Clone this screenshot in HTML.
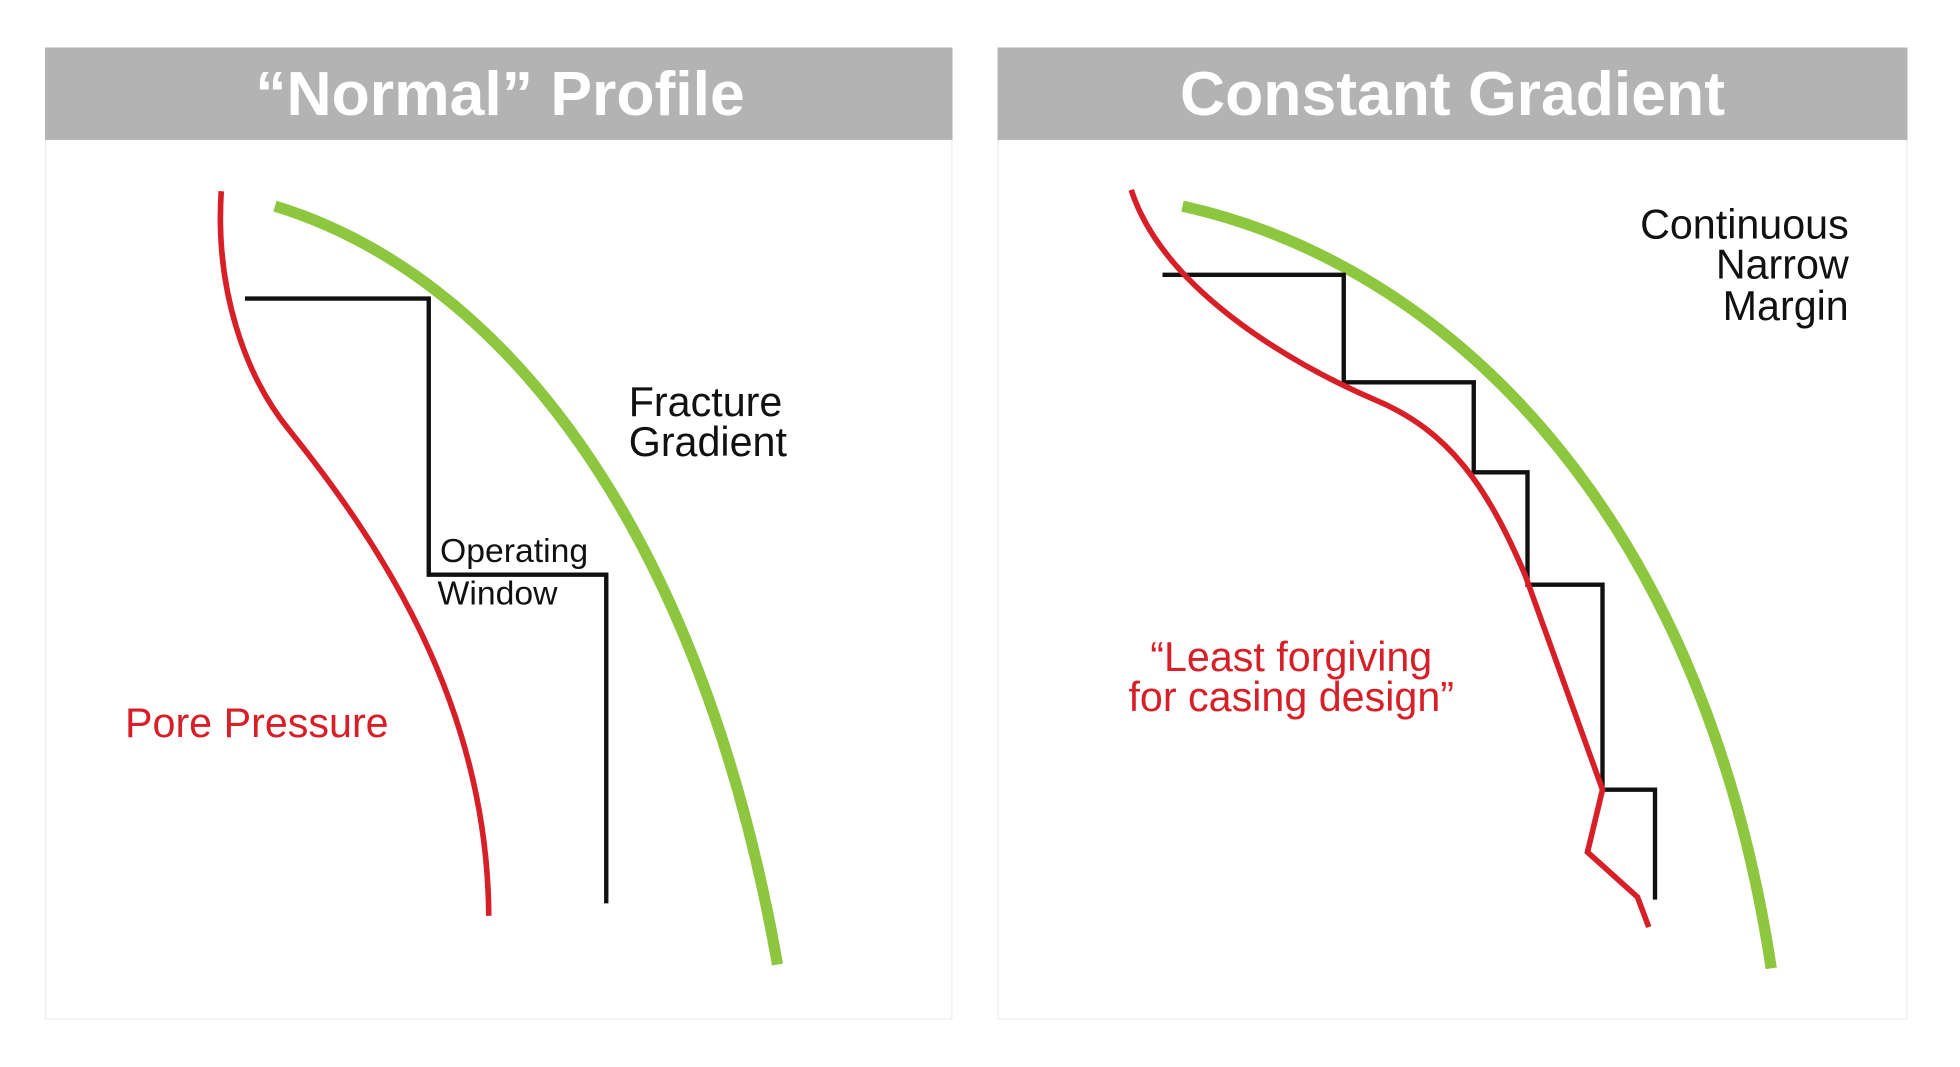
<!DOCTYPE html>
<html><head><meta charset="utf-8"><style>
html,body{margin:0;padding:0;background:#fff;}
svg{display:block;}
text{font-family:"Liberation Sans",sans-serif;}
</style></head><body>
<svg width="1960" height="1067" viewBox="0 0 1568 854" preserveAspectRatio="none" xmlns="http://www.w3.org/2000/svg">
<rect x="0" y="0" width="1568" height="854" fill="#fff"/>
<rect x="36.5" y="38.5" width="725" height="777" fill="#fff" stroke="#eeeeee" stroke-width="1"/>
<rect x="798.5" y="38.5" width="727" height="777" fill="#fff" stroke="#eeeeee" stroke-width="1"/>
<rect x="36" y="38" width="726" height="74" fill="#b3b3b3"/>
<rect x="798" y="38" width="728" height="74" fill="#b3b3b3"/>
<text x="400" y="92" text-anchor="middle" fill="#fff" font-size="50" font-weight="bold">“Normal” Profile</text>
<text x="1162" y="92" text-anchor="middle" fill="#fff" font-size="50" font-weight="bold">Constant Gradient</text>
<path d="M220,165 C400,220 560,420 622,772" fill="none" stroke="#8dc63f" stroke-width="9"/>
<path d="M177,153 C172,230 195,300 232,345 C300,430 390,560 391,733" fill="none" stroke="#d71f27" stroke-width="4.5"/>
<path d="M196,239 H343 V460 H485 V723" fill="none" stroke="#111" stroke-width="3.5"/>
<text x="503" y="333" font-size="33" fill="#111">Fracture</text>
<text x="503" y="365" font-size="33" fill="#111">Gradient</text>
<text x="352" y="450" font-size="27" fill="#111">Operating</text>
<text x="350" y="484" font-size="27" fill="#111">Window</text>
<text x="100" y="590" font-size="33" fill="#d71f27">Pore Pressure</text>
<path d="M946,165 C1150,210 1360,400 1417,775" fill="none" stroke="#8dc63f" stroke-width="9"/>
<path d="M930,220 H1075 V306 H1179 V378 H1222 V468 H1282 V632 H1324 V720" fill="none" stroke="#111" stroke-width="3.5"/>
<path d="M905,152 C930,230 1030,290 1100,320 C1160,345 1190,390 1220,460 L1282,632 L1270,682 L1310,718 L1319,742" fill="none" stroke="#d71f27" stroke-width="4.5"/>
<text x="1479" y="191" text-anchor="end" font-size="33" fill="#111">Continuous</text>
<text x="1479" y="223" text-anchor="end" font-size="33" fill="#111">Narrow</text>
<text x="1479" y="256" text-anchor="end" font-size="33" fill="#111">Margin</text>
<text x="1033" y="537" text-anchor="middle" font-size="33" fill="#d71f27">“Least forgiving</text>
<text x="1033" y="569" text-anchor="middle" font-size="33" fill="#d71f27">for casing design”</text>
</svg>
</body></html>
